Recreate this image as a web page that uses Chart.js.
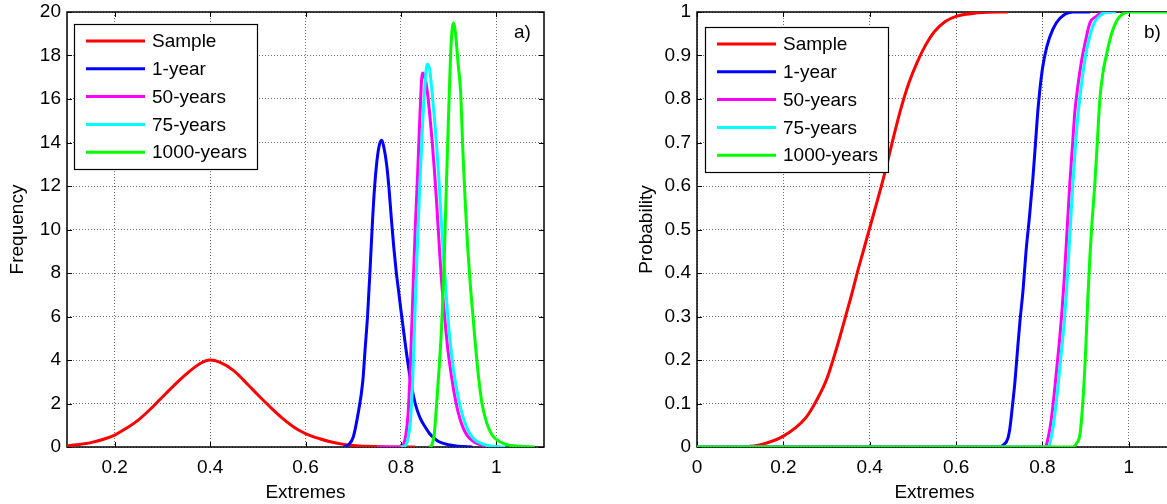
<!DOCTYPE html>
<html>
<head>
<meta charset="utf-8">
<script src="https://cdn.jsdelivr.net/npm/chart.js@4"></script>
<style>
  body { margin: 0; width: 1167px; height: 504px; overflow: hidden; background: #fff; position: relative; }
  canvas { position: absolute; top: 0; }
  #grafFreq { left: 0; }
  #grafProb { left: 620px; }
</style>
</head>
<body>
<canvas id="grafFreq" width="580" height="504"></canvas>
<canvas id="grafProb" width="560" height="504"></canvas>
<script>
// nombres y colores de las series
const nombres = ['Sample', '1-year', '50-years', '75-years', '1000-years'];
const colores = ['#ff0000', '#0000ff', '#ff00ff', '#00ffff', '#00ff00'];

// ticks
const ticksXFreq = [0.2, 0.4, 0.6, 0.8, 1];
const ticksYFreq = [0, 2, 4, 6, 8, 10, 12, 14, 16, 18, 20];
const ticksXProb = [0, 0.2, 0.4, 0.6, 0.8, 1];
const ticksYProb = [0, 0.1, 0.2, 0.3, 0.4, 0.5, 0.6, 0.7, 0.8, 0.9, 1];

// a) frecuencias
const sampleX = [0.10, 0.12, 0.15, 0.18, 0.20, 0.22, 0.25, 0.28, 0.30, 0.33, 0.35, 0.38, 0.40, 0.42, 0.45, 0.48, 0.50, 0.53, 0.55, 0.58, 0.60, 0.63, 0.65, 0.68, 0.70, 0.73, 0.76, 0.80, 0.83];
const sampleFreq = [0.05, 0.1, 0.2, 0.38, 0.55, 0.8, 1.25, 1.85, 2.3, 2.95, 3.35, 3.85, 4.0, 3.9, 3.5, 2.85, 2.4, 1.75, 1.35, 0.85, 0.62, 0.38, 0.25, 0.12, 0.07, 0.03, 0.01, 0, 0];

const año1X = [0.68, 0.69, 0.70, 0.71, 0.72, 0.725, 0.73, 0.735, 0.74, 0.745, 0.75, 0.755, 0.76, 0.765, 0.77, 0.775, 0.78, 0.785, 0.79, 0.795, 0.80, 0.81, 0.82, 0.83, 0.84, 0.85, 0.86, 0.87, 0.88, 0.90, 0.92, 0.95];
const año1Freq = [0, 0.1, 0.45, 1.5, 3.0, 4.5, 6.0, 8.0, 10.2, 12.0, 13.2, 13.9, 14.1, 13.7, 13.0, 11.9, 10.5, 9.2, 8.1, 7.2, 6.3, 4.6, 3.1, 2.0, 1.35, 0.95, 0.62, 0.4, 0.24, 0.1, 0.03, 0];

const años50X = [0.75, 0.80, 0.805, 0.81, 0.815, 0.82, 0.825, 0.83, 0.835, 0.84, 0.845, 0.85, 0.855, 0.86, 0.865, 0.87, 0.875, 0.88, 0.885, 0.89, 0.895, 0.90, 0.91, 0.92, 0.93, 0.94, 0.95, 0.96, 0.98, 1.0];
const años50Freq = [0, 0, 0.1, 0.5, 1.5, 3.8, 7.0, 10.0, 12.5, 15.3, 17.2, 17.0, 16.4, 15.4, 14.2, 12.8, 11.2, 9.4, 7.7, 6.4, 5.2, 4.2, 2.7, 1.6, 0.9, 0.5, 0.28, 0.15, 0.04, 0];

const años75X = [0.80, 0.81, 0.815, 0.82, 0.825, 0.83, 0.835, 0.84, 0.845, 0.85, 0.855, 0.86, 0.865, 0.87, 0.875, 0.88, 0.885, 0.89, 0.895, 0.90, 0.91, 0.92, 0.93, 0.94, 0.95, 0.96, 0.98, 1.0, 1.02];
const años75Freq = [0, 0.08, 0.4, 1.2, 3.2, 6.5, 9.5, 12.2, 14.6, 16.5, 17.6, 17.4, 16.4, 15.2, 13.8, 12.2, 10.3, 8.6, 7.0, 5.6, 3.6, 2.3, 1.4, 0.8, 0.45, 0.25, 0.08, 0.02, 0];

const años1000X = [0.86, 0.865, 0.87, 0.875, 0.88, 0.885, 0.89, 0.895, 0.90, 0.905, 0.91, 0.915, 0.92, 0.925, 0.93, 0.935, 0.94, 0.945, 0.95, 0.955, 0.96, 0.965, 0.97, 0.98, 0.99, 1.0, 1.02, 1.05, 1.08];
const años1000Freq = [0, 0.1, 0.6, 2.0, 3.6, 5.4, 8.0, 11.8, 15.3, 18.4, 19.5, 18.9, 17.6, 16.4, 13.6, 11.2, 9.2, 7.6, 6.3, 5.0, 3.8, 2.8, 2.0, 1.1, 0.6, 0.35, 0.12, 0.03, 0];

// b) probabilidad acumulada
const sampleCdfX = [0.11, 0.15, 0.2, 0.25, 0.27, 0.3, 0.315, 0.33, 0.344, 0.358, 0.371, 0.385, 0.399, 0.413, 0.427, 0.44, 0.452, 0.47, 0.49, 0.51, 0.53, 0.55, 0.575, 0.6, 0.65, 0.7, 0.72];
const sampleCdf = [0, 0.006, 0.025, 0.065, 0.095, 0.155, 0.2, 0.25, 0.3, 0.35, 0.4, 0.45, 0.5, 0.55, 0.6, 0.65, 0.7, 0.77, 0.835, 0.885, 0.925, 0.955, 0.978, 0.99, 0.998, 1, 1];

const año1CdfX = [0, 0.70, 0.71, 0.72, 0.725, 0.73, 0.736, 0.742, 0.748, 0.755, 0.762, 0.77, 0.778, 0.784, 0.79, 0.8, 0.81, 0.824, 0.84, 0.87, 0.91];
const año1Cdf = [0, 0, 0.005, 0.02, 0.046, 0.09, 0.147, 0.22, 0.29, 0.36, 0.45, 0.53, 0.62, 0.7, 0.78, 0.87, 0.92, 0.96, 0.985, 1, 1];

const años50CdfX = [0, 0.806, 0.815, 0.82, 0.827, 0.833, 0.84, 0.845, 0.85, 0.856, 0.863, 0.87, 0.875, 0.882, 0.891, 0.9, 0.91, 0.925, 0.94, 0.96];
const años50Cdf = [0, 0, 0.03, 0.06, 0.12, 0.18, 0.25, 0.31, 0.38, 0.48, 0.6, 0.7, 0.77, 0.83, 0.89, 0.935, 0.975, 0.99, 1, 1];

const años75CdfX = [0, 0.813, 0.822, 0.828, 0.835, 0.842, 0.85, 0.856, 0.862, 0.87, 0.877, 0.883, 0.89, 0.9, 0.91, 0.92, 0.935, 0.95, 0.97];
const años75Cdf = [0, 0, 0.03, 0.07, 0.13, 0.2, 0.28, 0.36, 0.46, 0.6, 0.7, 0.77, 0.83, 0.9, 0.945, 0.975, 0.993, 1, 1];

const años1000CdfX = [0, 0.87, 0.88, 0.887, 0.894, 0.9, 0.905, 0.91, 0.915, 0.921, 0.927, 0.933, 0.94, 0.949, 0.96, 0.972, 0.985, 1.0, 1.1];
const años1000Cdf = [0, 0, 0.01, 0.03, 0.11, 0.22, 0.34, 0.44, 0.52, 0.6, 0.7, 0.8, 0.86, 0.905, 0.95, 0.98, 0.995, 1, 1];

const fuente = { family: '"Liberation Sans", Arial, sans-serif', size: 19 };

let juntar = (xs, ys) => xs.map((x, i) => ({ x: x, y: ys[i] }));

let armarSeries = (pares) => pares.map((p, i) => ({
  label: nombres[i],
  data: juntar(p[0], p[1]),
  borderColor: colores[i],
  backgroundColor: colores[i],
  borderWidth: 3,
  pointRadius: 0,
  fill: false,
  cubicInterpolationMode: 'monotone',
  order: pares.length - i
}));

// marco y ticks hacia adentro (debajo de las curvas), leyenda y letra del panel encima
const extras = {
  id: 'extras',
  beforeDatasetsDraw(chart) {
    const ctx = chart.ctx;
    const a = chart.chartArea;
    const sx = chart.scales.x, sy = chart.scales.y;
    ctx.save();
    ctx.strokeStyle = '#000';
    ctx.lineWidth = 1;
    ctx.beginPath();
    sx.ticks.forEach(t => {
      const px = Math.round(sx.getPixelForValue(t.value)) + 0.5;
      ctx.moveTo(px, a.bottom); ctx.lineTo(px, a.bottom - 5);
      ctx.moveTo(px, a.top); ctx.lineTo(px, a.top + 5);
    });
    sy.ticks.forEach(t => {
      const py = Math.round(sy.getPixelForValue(t.value)) + 0.5;
      ctx.moveTo(a.left, py); ctx.lineTo(a.left + 5, py);
      ctx.moveTo(a.right, py); ctx.lineTo(a.right - 5, py);
    });
    ctx.stroke();
    ctx.lineWidth = 1.5;
    ctx.strokeRect(a.left, a.top, a.right - a.left, a.bottom - a.top);
    ctx.restore();
  },
  afterDraw(chart, args, op) {
    const ctx = chart.ctx;
    const a = chart.chartArea;
    ctx.save();
    const lx = a.left + op.legX, ly = a.top + op.legY;
    ctx.fillStyle = '#fff';
    ctx.fillRect(lx, ly, 183, 145);
    ctx.strokeStyle = '#000';
    ctx.lineWidth = 1.2;
    ctx.strokeRect(lx + 0.5, ly + 0.5, 183, 145);
    ctx.font = fuente.size + 'px ' + fuente.family;
    ctx.textBaseline = 'middle';
    ctx.textAlign = 'left';
    chart.data.datasets.forEach((d, i) => {
      const yy = ly + 17 + i * 27.8;
      ctx.strokeStyle = d.borderColor;
      ctx.lineWidth = 3;
      ctx.beginPath();
      ctx.moveTo(lx + 12, yy); ctx.lineTo(lx + 71, yy);
      ctx.stroke();
      ctx.fillStyle = '#000';
      ctx.fillText(d.label, lx + 78, yy + 1);
    });
    ctx.fillStyle = '#000';
    ctx.fillText(op.letra, a.right - op.letraX, a.top + 21);
    ctx.restore();
  }
};

let opciones = (xMin, xMax, xTicks, yMax, yTicks, yTitulo, anchoY, titPad, derecha, extra) => ({
  responsive: false,
  animation: false,
  layout: { padding: { left: 0, top: 12, right: derecha, bottom: 0 } },
  plugins: { legend: { display: false }, tooltip: { enabled: false }, extras: extra },
  scales: {
    x: {
      type: 'linear', min: xMin, max: xMax,
      afterBuildTicks: s => { s.ticks = xTicks.map(v => ({ value: v })); },
      afterFit: s => { s.height = 57; s.paddingLeft = 0; s.paddingRight = 0; },
      ticks: { font: fuente, color: '#000', padding: 9, maxRotation: 0, callback: v => String(+v.toFixed(2)) },
      grid: { color: '#6e6e6e', lineWidth: 1, drawTicks: false },
      border: { display: false, dash: [1, 2] },
      title: { display: true, text: 'Extremes', font: fuente, color: '#000', padding: { top: 0, bottom: 0 } }
    },
    y: {
      type: 'linear', min: 0, max: yMax,
      afterBuildTicks: s => { s.ticks = yTicks.map(v => ({ value: v })); },
      afterFit: s => { s.width = anchoY; s.paddingTop = 0; s.paddingBottom = 0; },
      ticks: { font: fuente, color: '#000', padding: 6, callback: v => String(+v.toFixed(2)) },
      grid: { color: '#6e6e6e', lineWidth: 1, drawTicks: false },
      border: { display: false, dash: [1, 2] },
      title: { display: true, text: yTitulo, font: fuente, color: '#000', padding: { top: titPad, bottom: 0 } }
    }
  }
});

new Chart(document.getElementById('grafFreq'), {
  type: 'line',
  data: {
    datasets: armarSeries([
      [sampleX, sampleFreq], [año1X, año1Freq], [años50X, años50Freq],
      [años75X, años75Freq], [años1000X, años1000Freq]
    ])
  },
  options: opciones(0.1, 1.1, ticksXFreq, 20, ticksYFreq, 'Frequency', 67, 6, 36,
    { legX: 7, legY: 12, letra: 'a)', letraX: 30 }),
  plugins: [extras]
});

new Chart(document.getElementById('grafProb'), {
  type: 'line',
  data: {
    datasets: armarSeries([
      [sampleCdfX, sampleCdf], [año1CdfX, año1Cdf], [años50CdfX, años50Cdf],
      [años75CdfX, años75Cdf], [años1000CdfX, años1000Cdf]
    ])
  },
  options: opciones(0, 1.1, ticksXProb, 1, ticksYProb, 'Probability', 77, 15, 8,
    { legX: 8, legY: 15, letra: 'b)', letraX: 28 }),
  plugins: [extras]
});
</script>
</body>
</html>
